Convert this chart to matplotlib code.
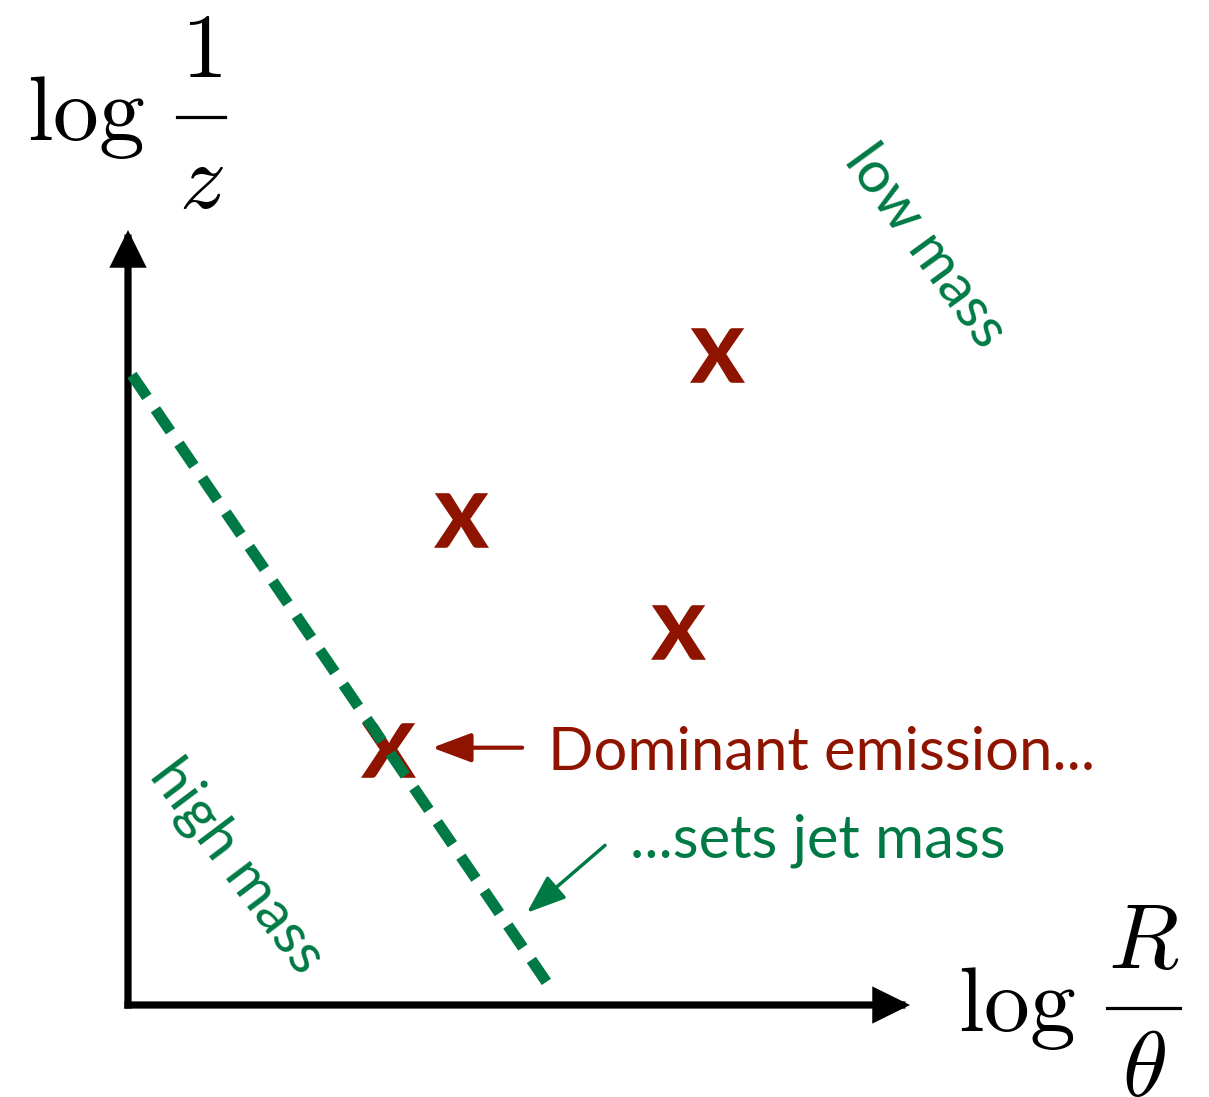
import matplotlib
matplotlib.use("Agg")
import numpy as np
import matplotlib.pyplot as plt
from matplotlib.patches import FancyArrowPatch
from matplotlib.lines import Line2D
from matplotlib.textpath import TextPath
from matplotlib.font_manager import FontProperties
from matplotlib.path import Path

plt.rcParams["mathtext.fontset"] = "cm"
plt.rcParams["font.family"] = ["Lato", "DejaVu Sans"]

# Emissions in the (log R/theta, log 1/z) Lund plane
emission_x = [7.53, 4.26, 7.03, 3.32]
emission_y = [8.39, 6.26, 4.81, 3.29]

# Line of constant jet mass through the dominant emission
mass_line_x = [0.05, 5.45]
mass_line_y = [8.13, 0.15]

RED = "#8f1400"
GREEN = "#007a45"

W, H = 1209, 1097
fig = plt.figure(figsize=(W / 100, H / 100), dpi=100)


def fx(px):
    return px / W


def fy(py):
    return 1 - py / H


ax = fig.add_axes([fx(128), fy(1005), (910 - 128) / W, (1005 - 230) / H])
ax.set_xlim(0, 10)
ax.set_ylim(0, 10)
ax.axis("off")

# Axes drawn as arrows
for end in [(10, 0), (0, 10)]:
    arr = FancyArrowPatch((0, 0), end, arrowstyle="-|>,head_length=0.85,head_width=0.42",
                          mutation_scale=22, lw=5.2, color="black",
                          capstyle="projecting", joinstyle="miter",
                          shrinkA=0, shrinkB=0, clip_on=False)
    ax.add_patch(arr)

# Dashed constant-mass line
ax.plot(mass_line_x, mass_line_y, color=GREEN, lw=8, dashes=(2.4, 1.35),
        solid_capstyle="butt", dash_capstyle="butt", zorder=3)

# Emissions: an "x" glyph used as the marker shape
glyph = TextPath((0, 0), "x", size=10, prop=FontProperties(family="Lato", weight="bold"))
verts = glyph.vertices.copy()
ext = glyph.get_extents()
verts[:, 0] -= (ext.x0 + ext.x1) / 2
verts[:, 1] -= (ext.y0 + ext.y1) / 2
x_marker = Path(verts, glyph.codes)
ax.scatter(emission_x, emission_y, marker=x_marker, s=40 ** 2, color=RED,
           linewidths=0, zorder=2)

# Annotation arrows
ax.add_patch(FancyArrowPatch((5.04, 3.32), (3.89, 3.32),
                             arrowstyle="-|>,head_length=1.2,head_width=0.45",
                             mutation_scale=20, lw=3, color=RED,
                             shrinkA=0, shrinkB=0))
ax.add_patch(FancyArrowPatch((6.10, 2.06), (5.10, 1.19),
                             arrowstyle="-|>,head_length=1.2,head_width=0.45",
                             mutation_scale=20, lw=2.5, color=GREEN,
                             shrinkA=0, shrinkB=0))

fig.text(fx(548), fy(770), "Dominant emission...", color=RED, fontsize=43,
         ha="left", va="baseline")
fig.text(fx(630), fy(858), "...sets jet mass", color=GREEN, fontsize=43,
         ha="left", va="baseline")
fig.text(fx(925), fy(246), "low mass", color=GREEN, fontsize=42, rotation=-54,
         rotation_mode="anchor", ha="center", va="center")
fig.text(fx(237), fy(866), "high mass", color=GREEN, fontsize=42, rotation=-53,
         rotation_mode="anchor", ha="center", va="center")


# Axis labels: log followed by a built-up fraction
def frac_label(log_x, log_base, num, den, bar_x0, bar_x1, bar_y, num_base, den_base, size=66):
    fig.text(fx(log_x), fy(log_base), r"$\log$", fontsize=size, ha="left", va="baseline")
    cx = (bar_x0 + bar_x1) / 2
    fig.text(fx(cx), fy(num_base), num, fontsize=size, ha="center", va="baseline")
    fig.text(fx(cx), fy(den_base), den, fontsize=size, ha="center", va="baseline")
    fig.add_artist(Line2D([fx(bar_x0), fx(bar_x1)], [fy(bar_y), fy(bar_y)],
                          transform=fig.transFigure, color="black", lw=2.3))


frac_label(27, 140, r"$1$", r"$z$", 177, 225, 117, 77, 208)
frac_label(958, 1031, r"$R$", r"$\theta$", 1107, 1180, 1008, 968, 1096)

fig.savefig("out.png", dpi=100)
